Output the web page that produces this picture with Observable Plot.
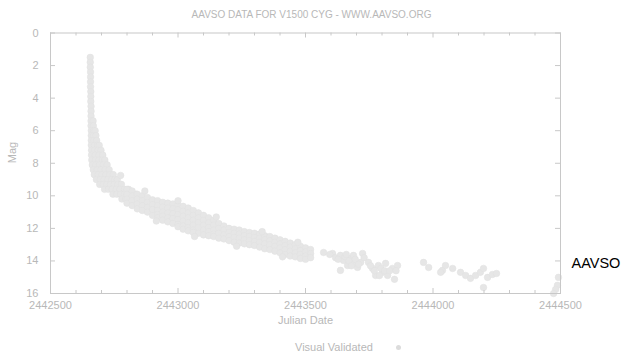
<!DOCTYPE html>
<html><head><meta charset="utf-8">
<script src="https://cdn.jsdelivr.net/npm/d3@7"></script>
<script src="https://cdn.jsdelivr.net/npm/@observablehq/plot@0.6"></script>
<style>
body{margin:0;background:#fff;font-family:"Liberation Sans",Arial,sans-serif;}
#title{height:26px;box-sizing:border-box;padding-top:9px;text-align:center;font-size:10px;line-height:12px;color:#b8b8b8;}
#legend{position:relative;height:23px;width:623px;}
#legend .lab{position:absolute;left:295px;top:8px;font-size:11px;line-height:12px;color:#b8b8b8;}
#legend .sw{position:absolute;left:396px;top:12px;width:5px;height:5px;border-radius:50%;background:#dcdcdc;}
</style></head><body>
<div id="title">AAVSO DATA FOR V1500 CYG - WWW.AAVSO.ORG</div>
<div id="chart"></div>
<div id="legend"><span class="lab">Visual Validated</span><span class="sw"></span></div>
<script>
// Peak spike (JD, mag)
const spike = [
  [2442656,1.5],[2442656,1.8],[2442656,2.1],[2442657,2.4],[2442657,2.7],[2442657,3.0],
  [2442657,3.3],[2442658,3.6],[2442658,3.9],[2442658,4.2],[2442659,4.5],[2442659,4.8],[2442659,5.1]
];
// Early decline, rows by magnitude: [mag, [JDs]]
const declineRows = [
  [5.4,[2442659,2442667]],
  [5.7,[2442659,2442668]],
  [6.0,[2442660,2442669,2442675]],
  [6.3,[2442660,2442669,2442678]],
  [6.6,[2442660,2442670,2442681]],
  [6.9,[2442660,2442672,2442684,2442691]],
  [7.2,[2442661,2442673,2442686,2442698]],
  [7.5,[2442661,2442675,2442690,2442705]],
  [7.8,[2442662,2442676,2442690,2442703,2442713]],
  [8.1,[2442664,2442678,2442692,2442707,2442722]],
  [8.4,[2442668,2442683,2442698,2442714,2442730]],
  [8.7,[2442672,2442687,2442702,2442717,2442732,2442746]],
  [9.0,[2442680,2442695,2442710,2442725,2442740,2442752,2442762]],
  [9.3,[2442693,2442707,2442721,2442735,2442750,2442764,2442778]],
  [9.6,[2442712,2442727,2442742,2442757,2442772,2442790,2442806]],
  [9.9,[2442745,2442760,2442775,2442790,2442805,2442820,2442835]],
  [10.2,[2442780,2442795]]
];
// Slow decline band, columns by date: [JD, [mags]]
const bandCols = [
  [2442800,[9.6,9.9,10.2,10.45]],
  [2442820,[9.7,10.0,10.3,10.6]],
  [2442840,[9.9,10.2,10.5,10.8]],
  [2442860,[10.0,10.3,10.6,10.9]],
  [2442880,[10.1,10.4,10.7,11.0]],
  [2442900,[10.25,10.55,10.85,11.2]],
  [2442920,[10.3,10.6,10.9,11.15,11.35]],
  [2442940,[10.4,10.7,11.0,11.25,11.5]],
  [2442960,[10.45,10.75,11.05,11.35,11.6]],
  [2442980,[10.5,10.8,11.1,11.4,11.7]],
  [2443000,[10.55,10.85,11.15,11.45,11.75,11.9]],
  [2443020,[10.65,10.95,11.25,11.55,11.85,12.05]],
  [2443040,[10.75,11.05,11.35,11.65,11.95,12.15]],
  [2443060,[10.9,11.2,11.5,11.8,12.1,12.25]],
  [2443080,[11.05,11.35,11.65,11.95,12.3]],
  [2443100,[11.2,11.5,11.8,12.1,12.4]],
  [2443120,[11.35,11.65,11.95,12.2,12.45]],
  [2443140,[11.5,11.8,12.1,12.35,12.5]],
  [2443160,[11.7,12.0,12.3,12.6]],
  [2443180,[11.85,12.1,12.4,12.65]],
  [2443200,[12.0,12.25,12.5,12.75]],
  [2443220,[12.05,12.3,12.55,12.85]],
  [2443240,[12.1,12.35,12.6,12.9]],
  [2443260,[12.2,12.45,12.7,12.95]],
  [2443280,[12.25,12.5,12.75,13.0]],
  [2443300,[12.3,12.55,12.8,13.05]],
  [2443320,[12.35,12.6,12.85,13.15]],
  [2443340,[12.45,12.7,12.95,13.25]],
  [2443360,[12.5,12.75,13.0,13.3]],
  [2443380,[12.6,12.85,13.1,13.4]],
  [2443400,[12.7,12.95,13.2,13.5]],
  [2443420,[12.8,13.05,13.3,13.6]],
  [2443440,[12.9,13.15,13.4,13.7]],
  [2443460,[13.0,13.25,13.5,13.75]],
  [2443480,[13.1,13.35,13.6,13.85]],
  [2443500,[13.2,13.45,13.7,13.9]],
  [2443520,[13.3,13.55,13.8]]
];
// Scattered observations off the band edges (JD, mag)
const strays = [
  [2442775,8.75],[2442870,9.7],[2442915,11.55],[2443000,10.3],[2443065,12.5],
  [2443150,11.3],[2443230,13.1],[2443330,12.2],[2443410,13.75],[2443470,12.85]
];
// Sparse late observations (JD, mag)
const tail = [
  [2443571,13.48],[2443606,13.54],[2443618,13.8],[2443637,13.66],[2443649,13.97],[2443637,14.58],
  [2443677,13.85],[2443688,14.15],[2443704,14.4],[2443716,14.09],[2443724,13.54],[2443665,14.28],[2443688,13.66],
  [2443595,13.6],[2443628,13.9],[2443655,13.75],[2443670,14.0],[2443695,13.9],[2443708,14.2],
  [2443730,13.8],[2443660,13.6],[2443680,14.3],
  [2443747,14.09],[2443763,14.46],[2443775,14.89],[2443786,14.28],[2443802,14.7],[2443814,14.15],
  [2443822,14.89],[2443841,14.46],[2443849,15.13],[2443861,14.28],
  [2443755,14.3],[2443770,14.6],[2443795,14.45],[2443810,14.6],[2443830,14.6],[2443790,14.9],[2443855,14.6],
  [2443963,14.09],[2443983,14.4],[2444037,14.58],[2444049,14.28],[2444077,14.46],[2444030,14.7],
  [2444108,14.7],[2444128,14.89],[2444147,15.07],[2444167,14.89],[2444186,14.7],[2444198,14.46],
  [2444198,15.63],[2444214,15.01],[2444233,14.83],[2444249,14.77],
  [2444492,15.01],[2444488,15.5],[2444481,15.75],[2444473,16.0]
];
const xMajor = [2442500, 2443000, 2443500, 2444000, 2444500];
const xMinor = [2442600, 2442700, 2442800, 2442900, 2443100, 2443200, 2443300, 2443400,
                2443600, 2443700, 2443800, 2443900, 2444100, 2444200, 2444300, 2444400];
const yMajor = [0, 2, 4, 6, 8, 10, 12, 14, 16];

const obs = [
  ...spike,
  ...declineRows.flatMap(([m, js]) => js.map(j => [j, m])),
  ...bandCols.flatMap(([j, ms]) => ms.map(m => [j, m])),
  ...strays,
  ...tail
];

const W = 623, H = 307, mt = 6.5, mb = 40, ml = 50, mr = 63;
const fw = W - ml - mr, fh = H - mt - mb;
const grey = "#b8b8b8", tickC = "#c8c8c8";

const chart = Plot.plot({
  width: W, height: H,
  marginTop: mt, marginBottom: mb, marginLeft: ml, marginRight: mr,
  style: {fontFamily: "Liberation Sans, Arial, sans-serif", fontSize: "11px", background: "#fff"},
  x: {domain: [2442500, 2444500]},
  y: {domain: [0, 16], range: [mt, H - mb]},
  marks: [
    Plot.dot(obs, {x: d => d[0], y: d => d[1], r: 3.3, fill: "#e6e6e6", stroke: "#e0e0e0", strokeWidth: 0.5}),
    Plot.frame({stroke: tickC}),
    Plot.tickX(xMajor, {x: d => d, insetTop: fh - 5, stroke: tickC}),
    Plot.tickX(xMajor, {x: d => d, insetBottom: fh - 5, stroke: tickC}),
    Plot.tickX(xMinor, {x: d => d, insetTop: fh - 3, stroke: tickC}),
    Plot.tickX(xMinor, {x: d => d, insetBottom: fh - 3, stroke: tickC}),
    Plot.tickY(yMajor, {y: d => d, insetRight: fw - 5, stroke: tickC}),
    Plot.tickY(yMajor, {y: d => d, insetLeft: fw - 5, stroke: tickC}),
    Plot.axisX(xMajor, {anchor: "bottom", tickSize: 0, tickPadding: 8, tickFormat: d => String(d), fill: grey, label: null}),
    Plot.axisY(yMajor, {anchor: "left", tickSize: 0, tickPadding: 12, tickFormat: d => String(d), fill: grey, label: null}),
    Plot.text(["Mag"], {frameAnchor: "left", dx: -38, rotate: -90, fill: grey}),
    Plot.text(["Julian Date"], {frameAnchor: "bottom", dy: 30, fill: grey}),
    Plot.text(["AAVSO"], {frameAnchor: "right", textAnchor: "start", dx: 11, dy: 100, fill: "#000", fontSize: 14.5})
  ]
});
document.getElementById("chart").appendChild(chart);
</script>
</body></html>
